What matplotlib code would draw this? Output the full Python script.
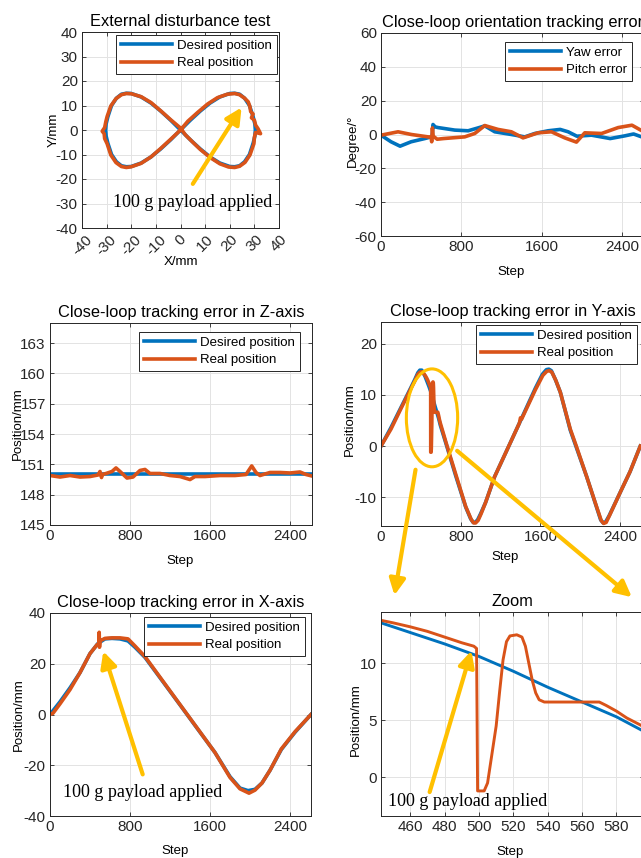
import matplotlib
matplotlib.use('Agg')
import matplotlib.pyplot as plt
from matplotlib.patches import Ellipse, FancyArrowPatch

plt.rcParams['font.family'] = ['Liberation Sans', 'DejaVu Sans']
plt.rcParams['axes.unicode_minus'] = False

BLUE = '#0072BD'
ORANGE = '#D95319'
YELLOW = '#FFC000'
DARK = '#262626'

# ---------------- data ----------------
# Panel 1: figure-eight (X/mm, Y/mm)
fig8_des_x = [0, 4, 8, 12, 16, 20, 22, 24, 26, 28, 29.5, 30.2, 30.4, 30.2, 29.5, 28, 26, 24, 22, 20, 16, 12, 8, 4,
              0, -4, -8, -12, -16, -20, -22, -24, -26, -28, -29.5, -30.2, -30.4, -30.2, -29.5, -28, -26, -24, -22,
              -20, -16, -12, -8, -4, 0]
fig8_des_y = [0, 4, 7.7, 11, 13.5, 14.9, 15, 14.6, 13, 10, 5.4, 2.5, 0, -2.5, -5.4, -10, -13, -14.6, -15, -14.9,
              -13.5, -11, -7.7, -4, 0, 4, 7.7, 11, 13.5, 14.9, 15, 14.6, 13, 10, 5.4, 2.5, 0, -2.5, -5.4, -10, -13,
              -14.6, -15, -14.9, -13.5, -11, -7.7, -4, 0]
fig8_real_x = [0, 3, 7, 11, 15, 19, 22, 24, 26, 27.5, 28.2, 28.5, 29.5, 28.8, 30, 30.5, 31.5, 32.5, 30.5, 30,
               29.8, 28.2, 26.2, 24, 22, 19.5, 16, 12, 8, 5, 2, 0, -4, -8, -12, -16, -20, -22, -24, -26.2, -28.3,
               -29.8, -30.3, -30.8, -31.8, -31, -30.8, -29.8, -28.3, -26.2, -24, -22, -20, -16, -12, -8, -4, 0]
fig8_real_y = [0, 3.6, 7.2, 10.6, 13.2, 14.6, 14.9, 14.4, 13, 11.5, 9.5, 7.5, 6.5, 5, 4, 2, 0.5, -1.5, -1, -3,
               -5.6, -10.2, -13.2, -14.8, -15.3, -15.1, -13.8, -11.2, -7.9, -5, -2, 0.8, 4.2, 7.8, 11.2, 13.6,
               14.8, 14.9, 14.4, 12.8, 9.8, 5.5, 3.5, 1, -0.5, -1.5, -3.5, -5.6, -10.2, -13.3, -14.9, -15.3, -15,
               -13.6, -11, -7.5, -3.8, 0]

# Panel 2: orientation tracking error (degree)
yaw_step = [0, 100, 190, 300, 436, 502, 510, 518, 540, 568, 635, 735, 868, 967, 1034, 1133, 1299, 1432, 1532,
            1665, 1785, 1864, 1951, 2097, 2283, 2429, 2516, 2592]
yaw_err = [-0.4, -4.3, -6.9, -4.3, -2.4, -1.4, -1.0, 5.9, 4.5, 4.1, 3.5, 2.6, 2.2, 3.9, 5.1, 1.6, 0, -1.4, 0.6,
           2.2, 3.0, 1.6, -1.0, -0.4, -2.4, -0.8, 0.3, -1.3]
pitch_step = [0, 170, 303, 469, 500, 505, 512, 520, 560, 622, 834, 934, 1034, 1166, 1299, 1415, 1565, 1698, 1831,
              1947, 2030, 2197, 2363, 2500, 2590]
pitch_err = [-0.4, 1.6, 0, -1.4, -1.6, -4.3, 3.9, -1.0, -2.8, -2.4, -1.4, 0.6, 5.3, 3.0, 1.6, -2.0, 1.0, 1.6,
             -2.0, -4.5, 1.0, 0.6, 4.1, 5.5, 2.5]

# Panel 3: Z-axis (mm)
z_des_step = [0, 2620]
z_des = [150.0, 150.0]
z_real_step = [0, 100, 200, 300, 400, 480, 500, 515, 525, 560, 620, 660, 700, 770, 830, 900, 950, 1000, 1100,
               1200, 1300, 1400, 1450, 1550, 1700, 1850, 1960, 2017, 2060, 2100, 2200, 2300, 2400, 2500, 2560, 2620]
z_real = [149.9, 149.75, 149.9, 149.75, 149.8, 149.95, 150.3, 149.7, 150.0, 150.1, 150.3, 150.65, 150.3, 149.65,
          149.75, 150.4, 150.5, 150.1, 150.1, 149.9, 149.8, 149.5, 149.8, 149.8, 149.9, 149.9, 150.0, 150.85,
          150.2, 149.9, 150.2, 150.2, 150.15, 150.25, 150.0, 149.85]

# Panel 4 / 6: Y-axis (mm)
y_des_step = [0, 100, 200, 300, 340, 370, 390, 410, 442, 460, 480, 500, 520, 540, 560, 580, 595, 660, 750, 850,
              900, 925, 945, 970, 1000, 1050, 1140, 1283, 1404, 1550, 1620, 1660, 1685, 1710, 1750, 1800, 1900,
              1956, 2065, 2170, 2205, 2230, 2255, 2290, 2412, 2500, 2603]
y_des = [0, 3.6, 7.5, 11.4, 13, 14.3, 14.8, 14.8, 13.6, 12.7, 11.7, 10.6, 9.3, 7.9, 6.6, 5.3, 4.1, 0, -5.8,
         -11.9, -14.2, -14.9, -14.9, -14.4, -13.2, -11, -6, 0, 5.1, 11.3, 14, 14.9, 15, 14.7, 13, 10.5, 3.1,
         0, -6, -12.3, -14.4, -15, -14.8, -13.6, -8.6, -5, 0]
y_real_step = [0, 100, 200, 300, 340, 370, 390, 410, 430, 442, 450, 460, 470, 480, 490, 497, 498.6, 499.2, 503,
               505, 508, 510, 512, 514, 516, 518, 522, 525, 527, 529, 531, 533, 535, 538, 570, 574, 580, 586, 595,
               660, 750, 850, 905, 930, 950, 975, 1005, 1050, 1140, 1283, 1390, 1400, 1410, 1550, 1625, 1665, 1690,
               1715, 1755, 1800, 1900, 1960, 2065, 2170, 2210, 2235, 2260, 2295, 2412, 2500, 2603]
y_real = [0, 3.3, 7.3, 11.2, 12.7, 14, 14.4, 14.5, 14.1, 13.8, 13.55, 13.2, 12.8, 12.3, 11.8, 11.5, 11.3, -1.2,
          -1.2, -0.5, 2.5, 4.5, 7.5, 10.3, 11.9, 12.4, 12.5, 12.3, 11.5, 10, 8.5, 7.4, 6.8, 6.6, 6.6, 6.3, 5.8,
          5.2, 4.5, 0.2, -5.5, -11.8, -14.3, -15, -15, -14.5, -13.2, -11, -6, 0, 4.5, 5.5, 5.2, 11, 13.8, 14.6,
          14.7, 14.4, 12.8, 10.5, 3.3, 0, -6, -12.2, -14.5, -15.1, -14.9, -13.5, -8.6, -5, 0]

# Panel 5: X-axis (mm)
x_des_step = [0, 100, 200, 300, 400, 480, 550, 620, 700, 780, 850, 950, 1100, 1300, 1480, 1650, 1800, 1900,
              1980, 2050, 2120, 2200, 2313, 2450, 2610]
x_des = [0, 5, 10.5, 16.5, 24, 28, 29.8, 30, 29.8, 29, 26.5, 22.5, 14.5, 3.8, -5.9, -15, -24.5, -29, -30, -29.5,
         -27, -22, -13.8, -7, 0]
x_real_step = [0, 30, 100, 200, 300, 400, 470, 490, 492, 495, 500, 550, 620, 700, 780, 850, 950, 1100, 1300,
               1480, 1650, 1800, 1900, 1980, 1990, 2050, 2120, 2200, 2313, 2450, 2610]
x_real = [0, 0.5, 4.2, 9.8, 16.5, 24, 27.5, 28, 32.4, 26.5, 29, 30, 30.2, 30.2, 29.8, 27, 22.8, 14.7, 3.9, -5.8,
          -15, -24.8, -29.3, -30.8, -31, -29.8, -27, -22, -13.6, -6.8, 0]

NOTE = '100 g payload applied'

# ---------------- figure ----------------
W, H = 641, 858
fig = plt.figure(figsize=(W / 100, H / 100), dpi=100)


def add_ax(l, t, r, b):
    return fig.add_axes([l / W, 1 - b / H, (r - l) / W, (b - t) / H])


def style(ax):
    ax.grid(True, color='#e3e3e3', lw=0.7)
    ax.set_axisbelow(True)
    for s in ax.spines.values():
        s.set_color(DARK)
        s.set_linewidth(0.7)
    ax.tick_params(direction='in', top=True, right=True, length=3, width=0.6,
                   labelsize=11, colors=DARK, pad=3)


def legend(ax, labels, x, y):
    leg = ax.legend(labels, loc='upper left', bbox_to_anchor=(x, y), borderaxespad=0,
                    fontsize=9.5, frameon=True, fancybox=False, edgecolor=DARK,
                    framealpha=1, handlelength=3.9, borderpad=0.35, labelspacing=0.4,
                    handletextpad=0.4)
    leg.get_frame().set_linewidth(0.7)


def arrow(ax, tail, tip):
    ax.annotate('', xy=tip, xytext=tail,
                arrowprops=dict(arrowstyle='-|>,head_length=0.8,head_width=0.4', color=YELLOW,
                                lw=3, mutation_scale=12, shrinkA=0, shrinkB=0), zorder=6)


LW = 2.6
TS = 11.8
LS = 9.5
SERIF = ['Liberation Serif', 'DejaVu Serif']

# Panel 1
ax1 = add_ax(82, 32, 279, 228)
style(ax1)
ax1.plot(fig8_des_x, fig8_des_y, color=BLUE, lw=LW)
ax1.plot(fig8_real_x, fig8_real_y, color=ORANGE, lw=LW)
ax1.set_xlim(-40, 40)
ax1.set_ylim(-40, 40)
ax1.set_xticks(range(-40, 41, 10))
ax1.set_yticks(range(-40, 41, 10))
for lab in ax1.get_xticklabels():
    lab.set_rotation(45)
    lab.set_ha('center')
ax1.set_title('External disturbance test', fontsize=TS, pad=4)
ax1.set_xlabel('X/mm', fontsize=LS)
ax1.set_ylabel('Y/mm', fontsize=LS)
ax1.xaxis.set_label_coords(0.5, -0.143)
ax1.yaxis.set_label_coords(-0.112, 0.5)
legend(ax1, ['Desired position', 'Real position'], (116 - 82) / 197, (228 - 35) / 196)
arrow(ax1, (5, -22), (24.8, 9.2))
ax1.text(-27.5, -29.6, NOTE, family=SERIF, fontsize=13, va='center', ha='left')

# Panel 2
ax2 = add_ax(381, 33, 644, 236)
style(ax2)
ax2.plot(yaw_step, yaw_err, color=BLUE, lw=LW)
ax2.plot(pitch_step, pitch_err, color=ORANGE, lw=LW)
ax2.set_xlim(0, 2620)
ax2.set_ylim(-60, 60)
ax2.set_xticks([0, 800, 1600, 2400])
ax2.set_yticks(range(-60, 61, 20))
ax2.set_title('Close-loop orientation tracking error', fontsize=TS, pad=4)
ax2.set_xlabel('Step', fontsize=LS)
ax2.set_ylabel('Degree/°', fontsize=LS)
ax2.xaxis.set_label_coords(0.494, -0.148)
ax2.yaxis.set_label_coords(-0.084, 0.47)
legend(ax2, ['Yaw error', 'Pitch error'], (505 - 381) / 263, (236 - 42) / 203)

# Panel 3
ax3 = add_ax(50, 323, 312, 525)
style(ax3)
ax3.plot(z_des_step, z_des, color=BLUE, lw=LW)
ax3.plot(z_real_step, z_real, color=ORANGE, lw=LW)
ax3.set_xlim(0, 2620)
ax3.set_ylim(145, 165)
ax3.set_xticks([0, 800, 1600, 2400])
ax3.set_yticks(range(145, 164, 3))
ax3.set_title('Close-loop tracking error in Z-axis', fontsize=TS, pad=4)
ax3.set_xlabel('Step', fontsize=LS)
ax3.set_ylabel('Position/mm', fontsize=LS)
ax3.xaxis.set_label_coords(0.496, -0.149)
ax3.yaxis.set_label_coords(-0.099, 0.5)
legend(ax3, ['Desired position', 'Real position'], (139 - 50) / 262, (525 - 332) / 202)

# Panel 4
ax4 = add_ax(381, 322, 644, 526)
style(ax4)
ax4.plot(y_des_step, y_des, color=BLUE, lw=LW)
ax4.plot(y_real_step, y_real, color=ORANGE, lw=LW)
ax4.set_xlim(27, 2640)
ax4.set_ylim(-15.6, 24.2)
ax4.set_xticks([0, 800, 1600, 2400])
ax4.set_yticks([-10, 0, 10, 20])
ax4.set_title('Close-loop tracking error in Y-axis', fontsize=TS, pad=4)
ax4.set_xlabel('Step', fontsize=LS)
ax4.set_ylabel('Position/mm', fontsize=LS)
ax4.xaxis.set_label_coords(0.47, -0.123)
ax4.yaxis.set_label_coords(-0.095, 0.52)
legend(ax4, ['Desired position', 'Real position'], (476 - 381) / 263, (526 - 325) / 204)
ax4.add_patch(Ellipse((512, 5.5), width=515, height=19.1, fill=False, edgecolor=YELLOW, lw=2.2, zorder=5))

# Panel 5
ax5 = add_ax(50, 613, 311, 816)
style(ax5)
ax5.plot(x_des_step, x_des, color=BLUE, lw=LW)
ax5.plot(x_real_step, x_real, color=ORANGE, lw=LW)
ax5.set_xlim(0, 2610)
ax5.set_ylim(-40, 40)
ax5.set_xticks([0, 800, 1600, 2400])
ax5.set_yticks([-40, -20, 0, 20, 40])
ax5.set_title('Close-loop tracking error in X-axis', fontsize=TS, pad=4)
ax5.set_xlabel('Step', fontsize=LS)
ax5.set_ylabel('Position/mm', fontsize=LS)
ax5.xaxis.set_label_coords(0.48, -0.143)
ax5.yaxis.set_label_coords(-0.096, 0.5)
legend(ax5, ['Desired position', 'Real position'], (144 - 50) / 261, (816 - 617) / 203)
arrow(ax5, (927, -23.6), (533, 24.9))
ax5.text(133, -30.8, NOTE, family=SERIF, fontsize=13, va='center', ha='left')

# Panel 6 (zoom)
ax6 = add_ax(381, 612, 644, 816)
style(ax6)
ax6.plot(y_des_step, y_des, color=BLUE, lw=2.1)
ax6.plot(y_real_step, y_real, color=ORANGE, lw=2.1)
ax6.set_xlim(443, 596)
ax6.set_ylim(-3.4, 14.5)
ax6.set_xticks(range(460, 600, 20))
ax6.set_yticks([0, 5, 10])
ax6.set_title('Zoom', fontsize=TS, pad=4)
ax6.set_xlabel('Step', fontsize=LS)
ax6.set_ylabel('Position/mm', fontsize=LS)
ax6.xaxis.set_label_coords(0.49, -0.147)
ax6.yaxis.set_label_coords(-0.072, 0.47)
arrow(ax6, (471.3, -1.3), (495.6, 11.1))
ax6.text(447, -2.1, NOTE, family=SERIF, fontsize=13, va='center', ha='left')

# connector arrows from the ellipse to the zoom panel (figure pixels)
for (x0, y0), (x1, y1) in [((416, 467), (394, 598)), ((455, 449), (634, 599))]:
    fig.add_artist(FancyArrowPatch((x0 / W, 1 - y0 / H), (x1 / W, 1 - y1 / H),
                                   transform=fig.transFigure,
                                   arrowstyle='-|>,head_length=0.8,head_width=0.4',
                                   mutation_scale=12, color=YELLOW, lw=3, zorder=10))

fig.savefig('out.png', dpi=100)
